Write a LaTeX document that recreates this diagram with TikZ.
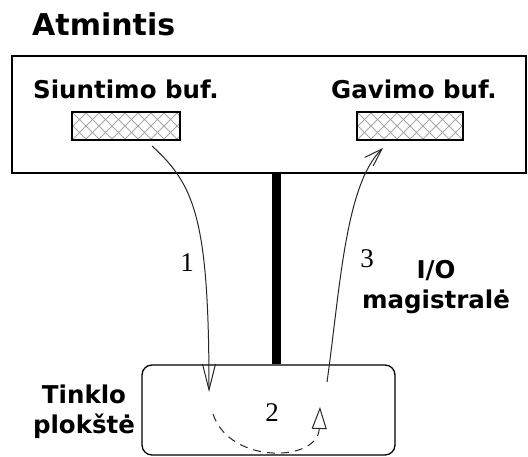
\documentclass[tikz,border=0pt]{standalone}
\usepackage{fontspec}
\setmainfont{DejaVu Sans}
\newfontfamily\numfont{Liberation Serif}
\usetikzlibrary{arrows.meta}
\newcommand{\hatchfill}[1]{%
  \begin{scope}
    \clip (#1.south west) rectangle (#1.north east);
    \foreach \k in {-3,...,10}{
      \draw[gray!70, line width=1pt]
        ([xshift=\k*13pt]#1.south west) -- ++(30,-30);
      \draw[gray!70, line width=1pt]
        ([xshift=\k*13pt]#1.north west) -- ++(30,30);
    }
  \end{scope}
  \draw[black, line width=2.2pt] (#1.south west) rectangle (#1.north east);}
\begin{document}
\begin{tikzpicture}[x=1pt,y=-1pt,
  lbl/.style={font=\bfseries\fontsize{24.5}{30}\selectfont, inner sep=0pt},
  num/.style={font=\numfont\fontsize{27}{30}\selectfont, inner sep=0pt},
  frame/.style={draw=black, line width=1.3pt, fill=white},
  bufbox/.style={minimum width=106pt, minimum height=28pt, inner sep=0pt},
  flow/.style={draw=black!85, line width=1pt},
  bus/.style={line width=9pt, draw=black}
]
\useasboundingbox (0,0) rectangle (528,457);

% memory block and network card
\node[frame, minimum width=514pt, minimum height=117pt, inner sep=0pt] (mem) at (269,114.5) {};
\node[frame, rounded corners=10pt, minimum width=253pt, minimum height=90pt, inner sep=0pt] (card) at (268.5,410) {};

% titles
\node[font=\bfseries\fontsize{30}{34}\selectfont, anchor=base west, inner sep=0pt] (title) at (32,36) {Atmintis};
\node[lbl, anchor=base west] (slab) at (33,99) {Siuntimo buf.};
\node[lbl, anchor=base west] (glab) at (331,99) {Gavimo buf.};
\node[lbl, align=center, anchor=base] (clab) at (84,433) {Tinklo\\plokštė};
\node[lbl, align=center, anchor=base] (blab) at (436,309) {I/O\\magistralė};

% buffers
\node[bufbox, minimum width=108pt] (sbuf) at (126,126) {};
\node[bufbox] (gbuf) at (410,126) {};
\hatchfill{sbuf}
\hatchfill{gbuf}

% I/O bus
\coordinate (busx) at (276.5,0);
\draw[bus] (busx |- mem.south) -- (busx |- card.north);

% data flow
\coordinate (s1) at (152,146);
\coordinate (e1) at (209,392);
\coordinate (s3) at (327,382);
\coordinate (e3) at (383,148);
\coordinate (d0) at (213,414);
\coordinate (d1) at (320,407);

\draw[flow, -{Straight Barb[length=26pt, width=13pt, line width=1pt]}]
  (s1) .. controls (195,185) and (209,220) .. (e1);
\draw[flow, -{Straight Barb[length=18pt, width=12pt, line width=1pt]}]
  (s3) .. controls (340,290) and (345,185) .. (e3);
\draw[flow, dashed, dash pattern=on 8pt off 6pt,
  -{Triangle[open, length=22pt, width=15pt, line width=1pt]}]
  (d0) .. controls (230,465) and (318,462) .. (d1);

\node[num] (n1) at (187,263) {1};
\node[num] (n3) at (367,259) {3};
\node[num] (n2) at (272,413) {2};
\end{tikzpicture}
\end{document}
